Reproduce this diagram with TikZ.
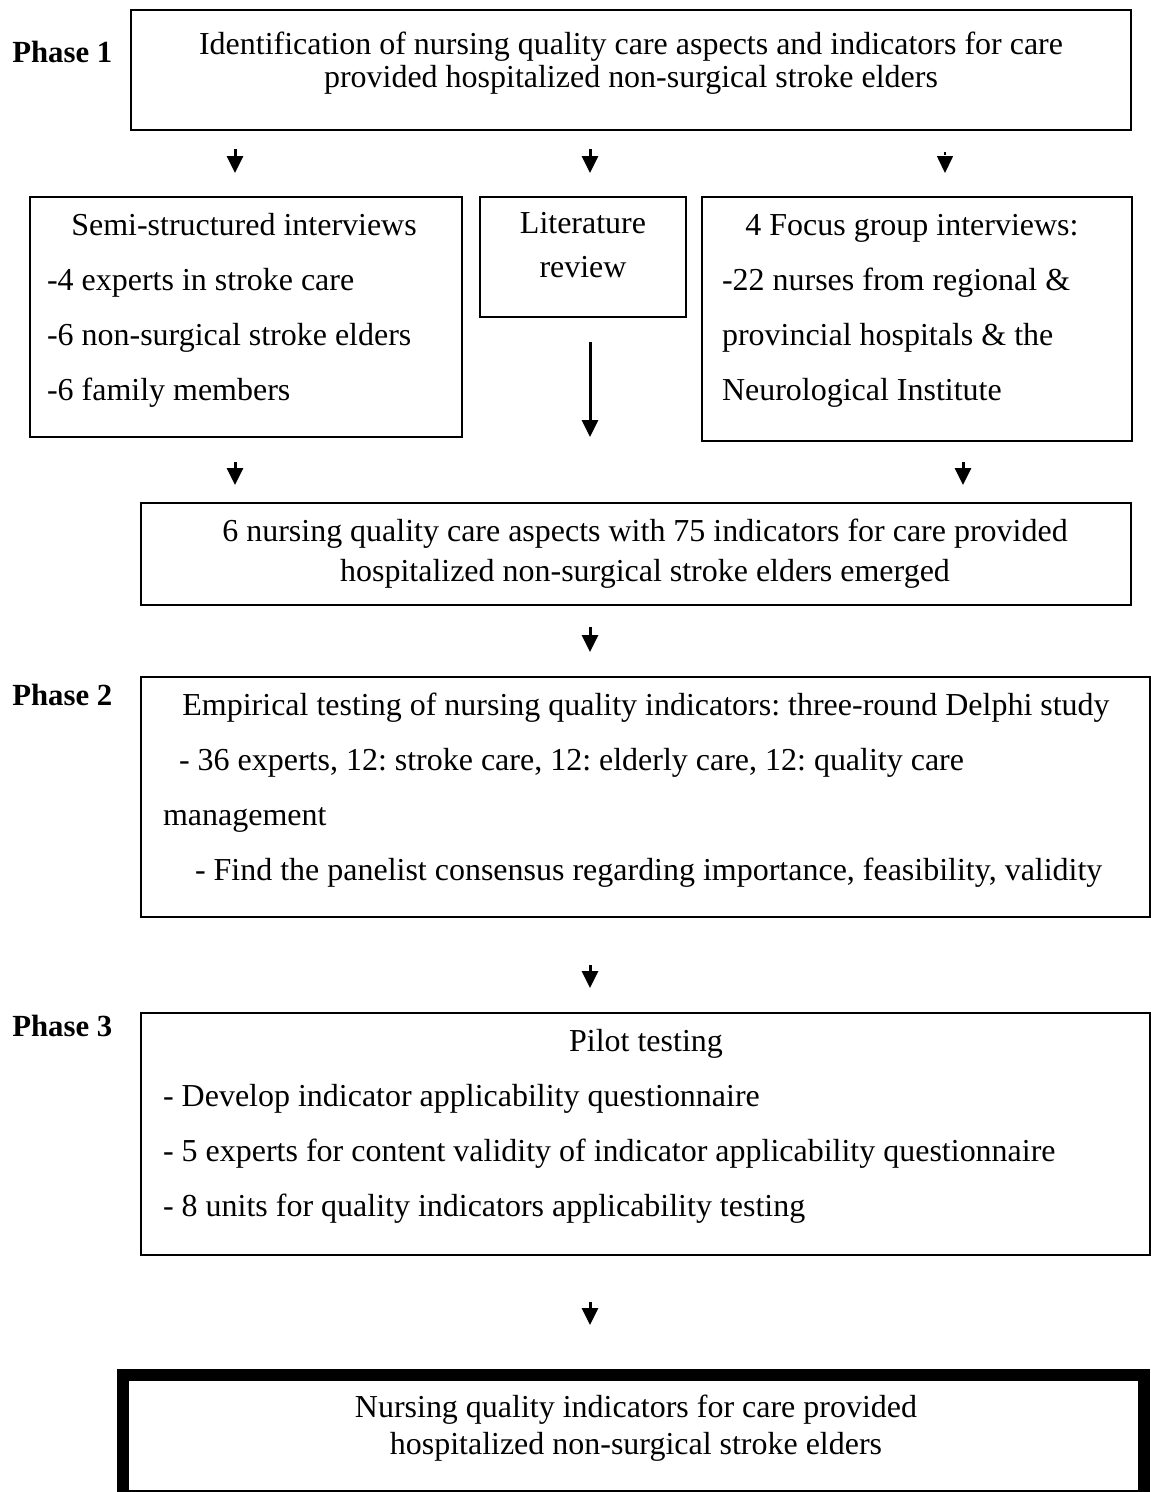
\documentclass[tikz,border=0pt]{standalone}
\usepackage{fontspec}
\setmainfont{Liberation Serif}
\usetikzlibrary{arrows.meta}
\tikzset{
  box/.style={
    rectangle, draw, line width=0.04cm, inner sep=0pt,
  },
  txt/.style={
    inner sep=0pt, font=\fontsize{18.2}{#1}\selectfont\frenchspacing,
  },
  txt/.default=19pt,
  phase/.style={
    inner sep=0pt, anchor=base west,
    font=\fontsize{17.5}{20}\selectfont\bfseries,
  },
  arr/.style={
    -{Triangle[length=0.34cm,width=0.32cm]}, line width=0.06cm,
  },
}
\begin{document}
\begin{tikzpicture}[x=0.02cm,y=-0.02cm]
    \useasboundingbox (0,0) rectangle (1151,1492);
    % arrow columns
    \coordinate (colL)  at (235,0);
    \coordinate (colM)  at (590,0);
    \coordinate (colR)  at (945,0);
    \coordinate (colR2) at (963,0);

    \node[phase] (ph1) at (12,62)   {Phase 1};
    \node[phase] (ph2) at (12,705)  {Phase 2};
    \node[phase] (ph3) at (12,1036) {Phase 3};

    \node[box, minimum width=20cm, minimum height=2.4cm] (b1) at (631,70) {};
    \node[txt, align=center] (tb1) at (631,63)
          {Identification of nursing quality care aspects and indicators for care\\
           provided hospitalized non-surgical stroke elders};

    \node[box, minimum width=8.64cm, minimum height=4.8cm] (sA) at (246,317) {};
    \node[txt=31.3pt, align=flush left, text width=7.88cm] (tA) at (244,310.5)
          {\makebox[\linewidth]{Semi-structured interviews}\\
           -4 experts in stroke care\\
           -6 non-surgical stroke elders\\
           -6 family members};

    \node[box, minimum width=4.12cm, minimum height=2.4cm] (lit) at (583,257) {};
    \node[txt=25pt, align=center] (tlit) at (583,245) {Literature\\review};

    \node[box, minimum width=8.6cm, minimum height=4.88cm] (fg) at (917,319) {};
    \node[txt=31.3pt, align=flush left, text width=7.6cm] (tfg) at (912,311)
          {\makebox[\linewidth]{4 Focus group interviews:}\\
           -22 nurses from regional \&\\
           provincial hospitals \& the\\
           Neurological Institute};

    \node[box, minimum width=19.8cm, minimum height=2.04cm] (emg) at (636,554) {};
    \node[txt=22.8pt, align=center] (temg) at (645,554)
          {6 nursing quality care aspects with 75 indicators for care provided\\
           hospitalized non-surgical stroke elders emerged};

    \node[box, minimum width=20.18cm, minimum height=4.8cm] (dlp) at (645.5,797) {};
    \node[txt=31.3pt, align=flush left, text width=19.32cm] (tdlp) at (646,790)
          {\makebox[\linewidth]{Empirical testing of nursing quality indicators: three-round Delphi study}\\
           \hspace*{0.32cm}- 36 experts, 12: stroke care, 12: elderly care, 12: quality care\\
           management\\
           \hspace*{0.64cm}- Find the panelist consensus regarding importance, feasibility, validity};

    \node[box, minimum width=20.18cm, minimum height=4.84cm] (plt) at (645.5,1134) {};
    \node[txt=31.3pt, align=flush left, text width=19.32cm] (tplt) at (646,1126.5)
          {\makebox[\linewidth]{Pilot testing}\\
           - Develop indicator applicability questionnaire\\
           - 5 experts for content validity of indicator applicability questionnaire\\
           - 8 units for quality indicators applicability testing};

    \node[box, line width=0.24cm, minimum width=20.42cm, minimum height=2.42cm] (res) at (633.5,1435.5) {};
    \node[txt=21pt, align=center] (tres) at (636,1428.5)
          {Nursing quality indicators for care provided\\
           hospitalized non-surgical stroke elders};

    \draw[arr, shorten <=0.36cm, shorten >=0.46cm] (b1.south -| colL) -- (sA.north -| colL);
    \draw[arr, shorten <=0.36cm, shorten >=0.46cm] (b1.south -| colM) -- (lit.north -| colM);
    \draw[arr, densely dotted, line width=0.03cm, shorten <=0.42cm, shorten >=0.46cm]
          (b1.south -| colR) -- (fg.north -| colR);
    \draw[arr, shorten <=0.48cm, shorten >=1.3cm] (lit.south -| colM) -- (emg.north -| colM);
    \draw[arr, shorten <=0.48cm, shorten >=0.34cm] (sA.south -| colL) -- (emg.north -| colL);
    \draw[arr, shorten <=0.4cm,  shorten >=0.34cm] (fg.south -| colR2) -- (emg.north -| colR2);
    \draw[arr, shorten <=0.42cm, shorten >=0.48cm] (emg.south -| colM) -- (dlp.north -| colM);
    \draw[arr, shorten <=0.94cm, shorten >=0.48cm] (dlp.south -| colM) -- (plt.north -| colM);
    \draw[arr, shorten <=0.92cm, shorten >=0.88cm] (plt.south -| colM) -- (res.north -| colM);
  \end{tikzpicture}
\end{document}
